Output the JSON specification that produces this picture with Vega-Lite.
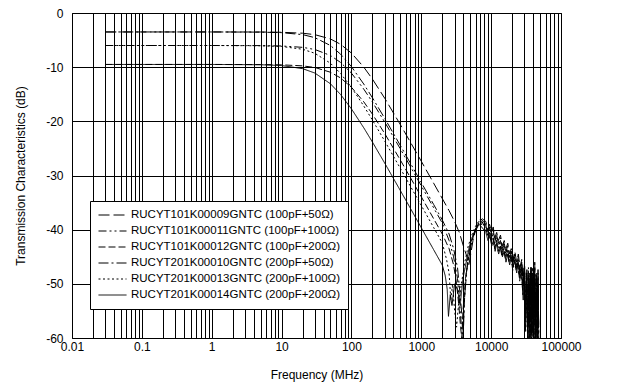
{
  "$schema": "https://vega.github.io/schema/vega-lite/v6.json",
  "width": 489,
  "height": 325,
  "autosize": {"type": "none"},
  "padding": {"left": 72, "top": 13, "right": 65, "bottom": 45},
  "background": "white",
  "config": {
    "font": "Liberation Sans",
    "view": {"stroke": "black", "strokeWidth": 1},
    "axis": {"labelFont": "Liberation Sans", "titleFont": "Liberation Sans", "labelColor": "black", "titleColor": "black", "titleFontWeight": "normal", "labelFontSize": 12, "titleFontSize": 12, "gridColor": "black", "gridOpacity": 1, "gridWidth": 1, "domain": false, "ticks": false},
    "legend": {"labelFont": "Liberation Sans"}
  },
  "datasets": {
    "s1": [
      {"f": 0.03, "db": -3.5}, {"f": 1, "db": -3.5}, {"f": 5, "db": -3.51}, {"f": 10, "db": -3.56}, {"f": 20, "db": -3.73}, {"f": 30, "db": -4.0}, {"f": 50, "db": -4.79}, {"f": 70, "db": -5.78}, {"f": 100, "db": -7.4}, {"f": 150, "db": -9.98}, {"f": 200, "db": -12.21}, {"f": 300, "db": -15.75}, {"f": 500, "db": -20.58}, {"f": 700, "db": -23.86}, {"f": 1000, "db": -27.37}, {"f": 1500, "db": -31.4}, {"f": 2000, "db": -34.27}, {"f": 2500, "db": -36.49}, {"f": 3000, "db": -38.5}, {"f": 3500, "db": -40.5}, {"f": 4000, "db": -43}, {"f": 4500, "db": -45}, {"f": 4800, "db": -46.5}, {"f": 5100, "db": -44.5}, {"f": 5500, "db": -42}, {"f": 6000, "db": -40}, {"f": 6800, "db": -38.5}, {"f": 7500, "db": -38},
      {"f": 8400, "db": -38.5}, {"f": 8900, "db": -40}, {"f": 9500, "db": -39}, {"f": 10100, "db": -40.5}, {"f": 10700, "db": -39.5}, {"f": 11300, "db": -41.5}, {"f": 12000, "db": -40.5}, {"f": 12700, "db": -42}, {"f": 13600, "db": -41}, {"f": 14400, "db": -43}, {"f": 15400, "db": -42}, {"f": 16300, "db": -43.5}, {"f": 17300, "db": -42.5}, {"f": 18400, "db": -44.5}, {"f": 19400, "db": -43.5}, {"f": 20600, "db": -45.5}, {"f": 21800, "db": -44}, {"f": 23200, "db": -46}, {"f": 24500, "db": -44.5}, {"f": 25900, "db": -47}, {"f": 27400, "db": -45.5}, {"f": 28800, "db": -50}, {"f": 30100, "db": -46}, {"f": 31300, "db": -55}, {"f": 32500, "db": -47}, {"f": 33700, "db": -58}, {"f": 34900, "db": -48}, {"f": 36100, "db": -60}, {"f": 37300, "db": -47}, {"f": 38500, "db": -59}, {"f": 39700, "db": -48}, {"f": 40900, "db": -60}, {"f": 42100, "db": -46}, {"f": 43300, "db": -59}, {"f": 44500, "db": -48}, {"f": 45700, "db": -60}, {"f": 46900, "db": -47}, {"f": 48000, "db": -59}
    ],
    "s2": [
      {"f": 0.03, "db": -6}, {"f": 1, "db": -6}, {"f": 5, "db": -6.02}, {"f": 10, "db": -6.09}, {"f": 20, "db": -6.34}, {"f": 30, "db": -6.74}, {"f": 50, "db": -7.84}, {"f": 70, "db": -9.13}, {"f": 100, "db": -11.1}, {"f": 150, "db": -14.04}, {"f": 200, "db": -16.45}, {"f": 300, "db": -20.15}, {"f": 500, "db": -25.06}, {"f": 700, "db": -28.37}, {"f": 1000, "db": -31.9}, {"f": 1500, "db": -35.94}, {"f": 2000, "db": -38.8}, {"f": 2500, "db": -42}, {"f": 2900, "db": -45}, {"f": 3300, "db": -49}, {"f": 3600, "db": -55}, {"f": 3800, "db": -58.5}, {"f": 3950, "db": -60}, {"f": 4100, "db": -54}, {"f": 4400, "db": -48}, {"f": 5000, "db": -44}, {"f": 5500, "db": -41.5}, {"f": 6200, "db": -39.5}, {"f": 6900, "db": -38.5}, {"f": 7600, "db": -39},
      {"f": 8300, "db": -39}, {"f": 8900, "db": -40.5}, {"f": 9500, "db": -39.5}, {"f": 10000, "db": -41.5}, {"f": 10600, "db": -40.5}, {"f": 11200, "db": -42.5}, {"f": 11900, "db": -41}, {"f": 12700, "db": -43}, {"f": 13600, "db": -42}, {"f": 14400, "db": -44}, {"f": 15200, "db": -42.5}, {"f": 16200, "db": -44.5}, {"f": 17200, "db": -43.5}, {"f": 18200, "db": -45.5}, {"f": 19300, "db": -44}, {"f": 20500, "db": -46}, {"f": 21700, "db": -45}, {"f": 23000, "db": -47}, {"f": 24400, "db": -45.5}, {"f": 25700, "db": -48}, {"f": 27100, "db": -46}, {"f": 28600, "db": -50}, {"f": 29900, "db": -47}, {"f": 31100, "db": -56}, {"f": 32300, "db": -48}, {"f": 33500, "db": -59}, {"f": 34700, "db": -49}, {"f": 35900, "db": -60}, {"f": 37100, "db": -48}, {"f": 38300, "db": -59}, {"f": 39500, "db": -48}, {"f": 40700, "db": -60}, {"f": 41900, "db": -49}, {"f": 43100, "db": -58}, {"f": 44300, "db": -48}, {"f": 45500, "db": -60}, {"f": 46700, "db": -50}, {"f": 47900, "db": -58}
    ],
    "s3": [
      {"f": 0.03, "db": -9.5}, {"f": 1, "db": -9.5}, {"f": 5, "db": -9.52}, {"f": 10, "db": -9.57}, {"f": 20, "db": -9.76}, {"f": 30, "db": -10.06}, {"f": 50, "db": -10.93}, {"f": 70, "db": -11.99}, {"f": 100, "db": -13.71}, {"f": 150, "db": -16.39}, {"f": 200, "db": -18.68}, {"f": 300, "db": -22.27}, {"f": 500, "db": -27.12}, {"f": 700, "db": -30.4}, {"f": 1000, "db": -33.93}, {"f": 1500, "db": -37.96}, {"f": 2000, "db": -40.82}, {"f": 2500, "db": -43.5}, {"f": 2900, "db": -46.5}, {"f": 3200, "db": -50}, {"f": 3450, "db": -54}, {"f": 3650, "db": -58}, {"f": 3800, "db": -60}, {"f": 3950, "db": -55}, {"f": 4300, "db": -49}, {"f": 4800, "db": -45}, {"f": 5300, "db": -42}, {"f": 6000, "db": -40}, {"f": 6700, "db": -38.8}, {"f": 7400, "db": -38.5},
      {"f": 8500, "db": -40}, {"f": 9100, "db": -41.5}, {"f": 9600, "db": -40.5}, {"f": 10100, "db": -42.5}, {"f": 10700, "db": -41.5}, {"f": 11300, "db": -43.5}, {"f": 11900, "db": -42}, {"f": 12600, "db": -44}, {"f": 13400, "db": -43}, {"f": 14300, "db": -45}, {"f": 15100, "db": -43.5}, {"f": 16100, "db": -45.5}, {"f": 17000, "db": -44}, {"f": 18100, "db": -46}, {"f": 19200, "db": -45}, {"f": 20400, "db": -47.5}, {"f": 21600, "db": -45.5}, {"f": 22900, "db": -47.5}, {"f": 24200, "db": -46.5}, {"f": 25600, "db": -49.5}, {"f": 27000, "db": -47}, {"f": 28400, "db": -52}, {"f": 29800, "db": -47.5}, {"f": 31000, "db": -59}, {"f": 32200, "db": -49}, {"f": 33400, "db": -60}, {"f": 34600, "db": -48}, {"f": 35800, "db": -58}, {"f": 37000, "db": -47}, {"f": 38200, "db": -60}, {"f": 39400, "db": -49}, {"f": 40600, "db": -60}, {"f": 41800, "db": -48}, {"f": 43000, "db": -59}, {"f": 44200, "db": -50}, {"f": 45400, "db": -60}, {"f": 46600, "db": -49}, {"f": 47800, "db": -59}
    ],
    "s4": [
      {"f": 0.03, "db": -3.5}, {"f": 1, "db": -3.5}, {"f": 5, "db": -3.53}, {"f": 10, "db": -3.63}, {"f": 20, "db": -3.99}, {"f": 30, "db": -4.55}, {"f": 50, "db": -6.0}, {"f": 70, "db": -7.6}, {"f": 100, "db": -9.9}, {"f": 150, "db": -13.11}, {"f": 200, "db": -15.66}, {"f": 300, "db": -19.46}, {"f": 500, "db": -24.43}, {"f": 700, "db": -27.75}, {"f": 1000, "db": -31.29}, {"f": 1500, "db": -35.33}, {"f": 2000, "db": -38.21}, {"f": 2500, "db": -40.8}, {"f": 2900, "db": -43.5}, {"f": 3300, "db": -47}, {"f": 3600, "db": -52}, {"f": 3850, "db": -56.5}, {"f": 4000, "db": -59}, {"f": 4150, "db": -53}, {"f": 4500, "db": -47}, {"f": 5000, "db": -43}, {"f": 5700, "db": -40.5}, {"f": 6400, "db": -39}, {"f": 7100, "db": -38},
      {"f": 8400, "db": -39}, {"f": 9000, "db": -40.5}, {"f": 9500, "db": -39.5}, {"f": 10100, "db": -41}, {"f": 10700, "db": -40}, {"f": 11300, "db": -42}, {"f": 12000, "db": -41}, {"f": 12700, "db": -42.5}, {"f": 13600, "db": -41.5}, {"f": 14400, "db": -43.5}, {"f": 15400, "db": -42.5}, {"f": 16300, "db": -44}, {"f": 17300, "db": -43}, {"f": 18400, "db": -45}, {"f": 19400, "db": -44}, {"f": 20600, "db": -46}, {"f": 21800, "db": -44.5}, {"f": 23200, "db": -46.5}, {"f": 24500, "db": -45}, {"f": 25900, "db": -48}, {"f": 27400, "db": -46}, {"f": 28800, "db": -51}, {"f": 30100, "db": -47}, {"f": 31300, "db": -57}, {"f": 32500, "db": -48}, {"f": 33700, "db": -60}, {"f": 34900, "db": -49}, {"f": 36100, "db": -59}, {"f": 37300, "db": -47}, {"f": 38500, "db": -60}, {"f": 39700, "db": -49}, {"f": 40900, "db": -58}, {"f": 42100, "db": -47}, {"f": 43300, "db": -60}, {"f": 44500, "db": -49}, {"f": 45700, "db": -59}, {"f": 46900, "db": -48}, {"f": 48000, "db": -60}
    ],
    "s5": [
      {"f": 0.03, "db": -6}, {"f": 1, "db": -6}, {"f": 5, "db": -6.05}, {"f": 10, "db": -6.18}, {"f": 20, "db": -6.69}, {"f": 30, "db": -7.44}, {"f": 50, "db": -9.27}, {"f": 70, "db": -11.16}, {"f": 100, "db": -13.73}, {"f": 150, "db": -17.15}, {"f": 200, "db": -19.78}, {"f": 300, "db": -23.65}, {"f": 500, "db": -28.66}, {"f": 700, "db": -32.0}, {"f": 1000, "db": -35.54}, {"f": 1500, "db": -39.59}, {"f": 2000, "db": -42.46}, {"f": 2300, "db": -45.5}, {"f": 2500, "db": -48}, {"f": 2650, "db": -53}, {"f": 2800, "db": -50}, {"f": 3000, "db": -55}, {"f": 3200, "db": -58}, {"f": 3400, "db": -54}, {"f": 3750, "db": -50}, {"f": 4200, "db": -46}, {"f": 4700, "db": -43}, {"f": 5300, "db": -41}, {"f": 5900, "db": -39.5}, {"f": 6600, "db": -38.5}, {"f": 7200, "db": -39},
      {"f": 8300, "db": -39.5}, {"f": 8800, "db": -41}, {"f": 9200, "db": -40}, {"f": 9700, "db": -42}, {"f": 10400, "db": -41}, {"f": 11000, "db": -43}, {"f": 11800, "db": -41.5}, {"f": 12500, "db": -43.5}, {"f": 13300, "db": -42.5}, {"f": 14200, "db": -44.5}, {"f": 15000, "db": -43}, {"f": 15800, "db": -45}, {"f": 16800, "db": -43.5}, {"f": 17900, "db": -46}, {"f": 19000, "db": -44.5}, {"f": 20000, "db": -46.5}, {"f": 21200, "db": -45}, {"f": 22600, "db": -47.5}, {"f": 23900, "db": -46}, {"f": 25200, "db": -48.5}, {"f": 26600, "db": -46.5}, {"f": 28200, "db": -51}, {"f": 29400, "db": -47}, {"f": 30600, "db": -57}, {"f": 31800, "db": -48}, {"f": 33000, "db": -59}, {"f": 34200, "db": -47}, {"f": 35400, "db": -60}, {"f": 36600, "db": -49}, {"f": 37800, "db": -60}, {"f": 39000, "db": -47}, {"f": 40200, "db": -59}, {"f": 41400, "db": -50}, {"f": 42600, "db": -60}, {"f": 43800, "db": -48}, {"f": 45000, "db": -59}, {"f": 46200, "db": -51}, {"f": 47400, "db": -60}
    ],
    "s6": [
      {"f": 0.03, "db": -9.5}, {"f": 1, "db": -9.5}, {"f": 5, "db": -9.55}, {"f": 10, "db": -9.7}, {"f": 20, "db": -10.27}, {"f": 30, "db": -11.09}, {"f": 50, "db": -13.06}, {"f": 70, "db": -15.05}, {"f": 100, "db": -17.7}, {"f": 150, "db": -21.18}, {"f": 200, "db": -23.84}, {"f": 300, "db": -27.73}, {"f": 500, "db": -32.75}, {"f": 700, "db": -36.08}, {"f": 1000, "db": -39.64}, {"f": 1500, "db": -43.68}, {"f": 2000, "db": -46.55}, {"f": 2200, "db": -48.5}, {"f": 2350, "db": -51}, {"f": 2450, "db": -56}, {"f": 2600, "db": -52}, {"f": 2750, "db": -54}, {"f": 3000, "db": -50}, {"f": 3300, "db": -51}, {"f": 3600, "db": -54}, {"f": 3950, "db": -49}, {"f": 4400, "db": -46}, {"f": 4900, "db": -43}, {"f": 5500, "db": -41}, {"f": 6100, "db": -40}, {"f": 6700, "db": -39}, {"f": 7300, "db": -39.5},
      {"f": 8400, "db": -40.5}, {"f": 9000, "db": -42}, {"f": 9600, "db": -41}, {"f": 10200, "db": -43}, {"f": 10800, "db": -42}, {"f": 11400, "db": -44}, {"f": 12000, "db": -42.5}, {"f": 12800, "db": -44.5}, {"f": 13700, "db": -43}, {"f": 14500, "db": -45}, {"f": 15400, "db": -44}, {"f": 16300, "db": -46}, {"f": 17300, "db": -44.5}, {"f": 18400, "db": -46.5}, {"f": 19400, "db": -45}, {"f": 20600, "db": -47}, {"f": 21800, "db": -45.5}, {"f": 23200, "db": -48}, {"f": 24500, "db": -46}, {"f": 25800, "db": -49}, {"f": 27200, "db": -47}, {"f": 28800, "db": -53}, {"f": 30000, "db": -48}, {"f": 31200, "db": -58}, {"f": 32400, "db": -49}, {"f": 33600, "db": -60}, {"f": 34800, "db": -50}, {"f": 36000, "db": -60}, {"f": 37200, "db": -48}, {"f": 38400, "db": -59}, {"f": 39600, "db": -50}, {"f": 40800, "db": -60}, {"f": 42000, "db": -49}, {"f": 43200, "db": -60}, {"f": 44400, "db": -52}, {"f": 45600, "db": -60}, {"f": 46800, "db": -50}, {"f": 48000, "db": -58}
    ]
  },
  "encoding": {
    "x": {
      "field": "f", "type": "quantitative",
      "scale": {"type": "log", "domain": [0.01, 100000], "nice": false},
      "axis": {
        "title": "Frequency (MHz)", "titlePadding": 17,
        "values": [0.01,0.02,0.03,0.04,0.05,0.06,0.07,0.08,0.09,0.1,0.2,0.3,0.4,0.5,0.6,0.7,0.8,0.9,1,2,3,4,5,6,7,8,9,10,20,30,40,50,60,70,80,90,100,200,300,400,500,600,700,800,900,1000,2000,3000,4000,5000,6000,7000,8000,9000,10000,20000,30000,40000,50000,60000,70000,80000,90000,100000],
        "format": "~g",
        "labelExpr": "indexof(['0.01','0.1','1','10','100','1000','10000','100000'], datum.label) >= 0 ? datum.label : ''",
        "labelOverlap": false, "labelFlush": false, "labelPadding": 3, "grid": true
      }
    },
    "y": {
      "field": "db", "type": "quantitative",
      "scale": {"domain": [-60, 0], "nice": false},
      "axis": {
        "title": "Transmission Characteristics (dB)", "titlePadding": 18,
        "values": [-60, -50, -40, -30, -20, -10, 0],
        "labelExpr": "datum.value + ''", "labelPadding": 9, "grid": true
      }
    }
  },
  "layer": [
    {"data": {"name": "s1"}, "mark": {"type": "line", "color": "black", "strokeWidth": 1, "clip": true}, "encoding": {"strokeDash": {"datum": "RUCYT101K00009GNTC (100pF+50Ω)", "scale": {"domain": ["RUCYT101K00009GNTC (100pF+50Ω)", "RUCYT101K00011GNTC (100pF+100Ω)", "RUCYT101K00012GNTC (100pF+200Ω)", "RUCYT201K00010GNTC (200pF+50Ω)", "RUCYT201K00013GNTC (200pF+100Ω)", "RUCYT201K00014GNTC (200pF+200Ω)"], "range": [[11, 4], [8, 3, 2, 3, 2, 3], [7, 3], [10, 3, 2, 3], [2, 2.5], [1, 0]]}, "legend": {"title": null, "orient": "none", "legendX": 18, "legendY": 188, "strokeColor": "black", "fillColor": "white", "padding": 8, "labelFontSize": 11.5, "labelLimit": 0, "symbolType": "stroke", "symbolSize": 784, "clipHeight": 12, "symbolStrokeWidth": 1, "symbolStrokeColor": "black", "rowPadding": 4, "labelOffset": 4, "cornerRadius": 0}}}},
    {"data": {"name": "s2"}, "mark": {"type": "line", "color": "black", "strokeWidth": 1, "clip": true}, "encoding": {"strokeDash": {"datum": "RUCYT101K00011GNTC (100pF+100Ω)"}}},
    {"data": {"name": "s3"}, "mark": {"type": "line", "color": "black", "strokeWidth": 1, "clip": true}, "encoding": {"strokeDash": {"datum": "RUCYT101K00012GNTC (100pF+200Ω)"}}},
    {"data": {"name": "s4"}, "mark": {"type": "line", "color": "black", "strokeWidth": 1, "clip": true}, "encoding": {"strokeDash": {"datum": "RUCYT201K00010GNTC (200pF+50Ω)"}}},
    {"data": {"name": "s5"}, "mark": {"type": "line", "color": "black", "strokeWidth": 1, "clip": true}, "encoding": {"strokeDash": {"datum": "RUCYT201K00013GNTC (200pF+100Ω)"}}},
    {"data": {"name": "s6"}, "mark": {"type": "line", "color": "black", "strokeWidth": 1, "clip": true}, "encoding": {"strokeDash": {"datum": "RUCYT201K00014GNTC (200pF+200Ω)"}}}
  ]
}
